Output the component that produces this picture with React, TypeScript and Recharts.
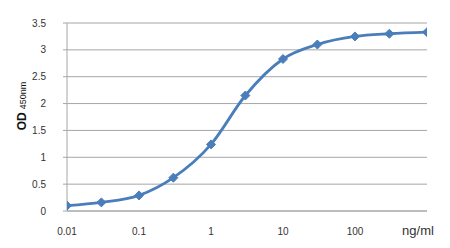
import React from "react";
import { LineChart, Line, XAxis, YAxis, CartesianGrid, Label } from "recharts";

const concentrations = [0.01, 0.03, 0.1, 0.3, 1, 3, 10, 30, 100, 300, 1000];
const odValues = [0.1, 0.16, 0.29, 0.62, 1.24, 2.15, 2.83, 3.1, 3.25, 3.3, 3.33];
const xTicks = [0.01, 0.1, 1, 10, 100, 1000];
const xTickLabels = ["0.01", "0.1", "1", "10", "100", "ng/ml"];
const yTicks = [0, 0.5, 1, 1.5, 2, 2.5, 3, 3.5];

const data = concentrations.map((c, i) => ({ conc: c, od: odValues[i] }));

const FONT = "'Liberation Sans', Arial, sans-serif";
const BLUE = "#4a7ebb";

function XTick({ x, y, payload }: any) {
  const idx = xTicks.indexOf(payload.value);
  const label = xTickLabels[idx] ?? String(payload.value);
  const isUnit = label === "ng/ml";
  return (
    <text
      x={isUnit ? x - 9 : x}
      y={y + 22}
      textAnchor="middle"
      fontFamily={FONT}
      fontSize={isUnit ? 13 : 10}
      fill="#333"
    >
      {label}
    </text>
  );
}

function Diamond({ cx, cy }: any) {
  if (cx == null || cy == null) return null;
  const r = 4.5;
  return (
    <polygon
      points={`${cx},${cy - r} ${cx + r},${cy} ${cx},${cy + r} ${cx - r},${cy}`}
      fill={BLUE}
      stroke={BLUE}
      strokeWidth={1}
    />
  );
}

function YTitle() {
  return (
    <text
      transform="translate(26,106) rotate(-90)"
      textAnchor="middle"
      fontFamily={FONT}
      fill="#111"
    >
      <tspan fontSize={12} fontWeight={700}>OD</tspan>
      <tspan fontSize={9} dx={3}>450nm</tspan>
    </text>
  );
}

export default function App() {
  return (
    <div style={{ position: "absolute", left: 0, top: 0, width: 450, height: 248, background: "#fff" }}>
      <LineChart width={450} height={248} data={data} margin={{ top: 23, right: 23, bottom: 0, left: 0 }}>
        <CartesianGrid vertical={false} stroke="#a6a6a6" strokeWidth={1} />
        <XAxis
          dataKey="conc"
          type="number"
          scale="log"
          domain={[0.01, 1000]}
          ticks={xTicks}
          allowDataOverflow
          height={37}
          tickLine={false}
          tickSize={0}
          axisLine={{ stroke: "#a6a6a6" }}
          tick={<XTick />}
          interval={0}
        />
        <YAxis
          type="number"
          domain={[0, 3.5]}
          ticks={yTicks}
          width={67}
          tickSize={4}
          tickMargin={17}
          tickLine={{ stroke: "#a6a6a6" }}
          axisLine={{ stroke: "#a6a6a6" }}
          tick={{ fontFamily: FONT, fontSize: 10, fill: "#333" }}
        >
          <Label content={<YTitle />} />
        </YAxis>
        <Line
          type="monotone"
          dataKey="od"
          stroke={BLUE}
          strokeWidth={2.8}
          dot={<Diamond />}
          activeDot={false}
          isAnimationActive={false}
        />
      </LineChart>
    </div>
  );
}
